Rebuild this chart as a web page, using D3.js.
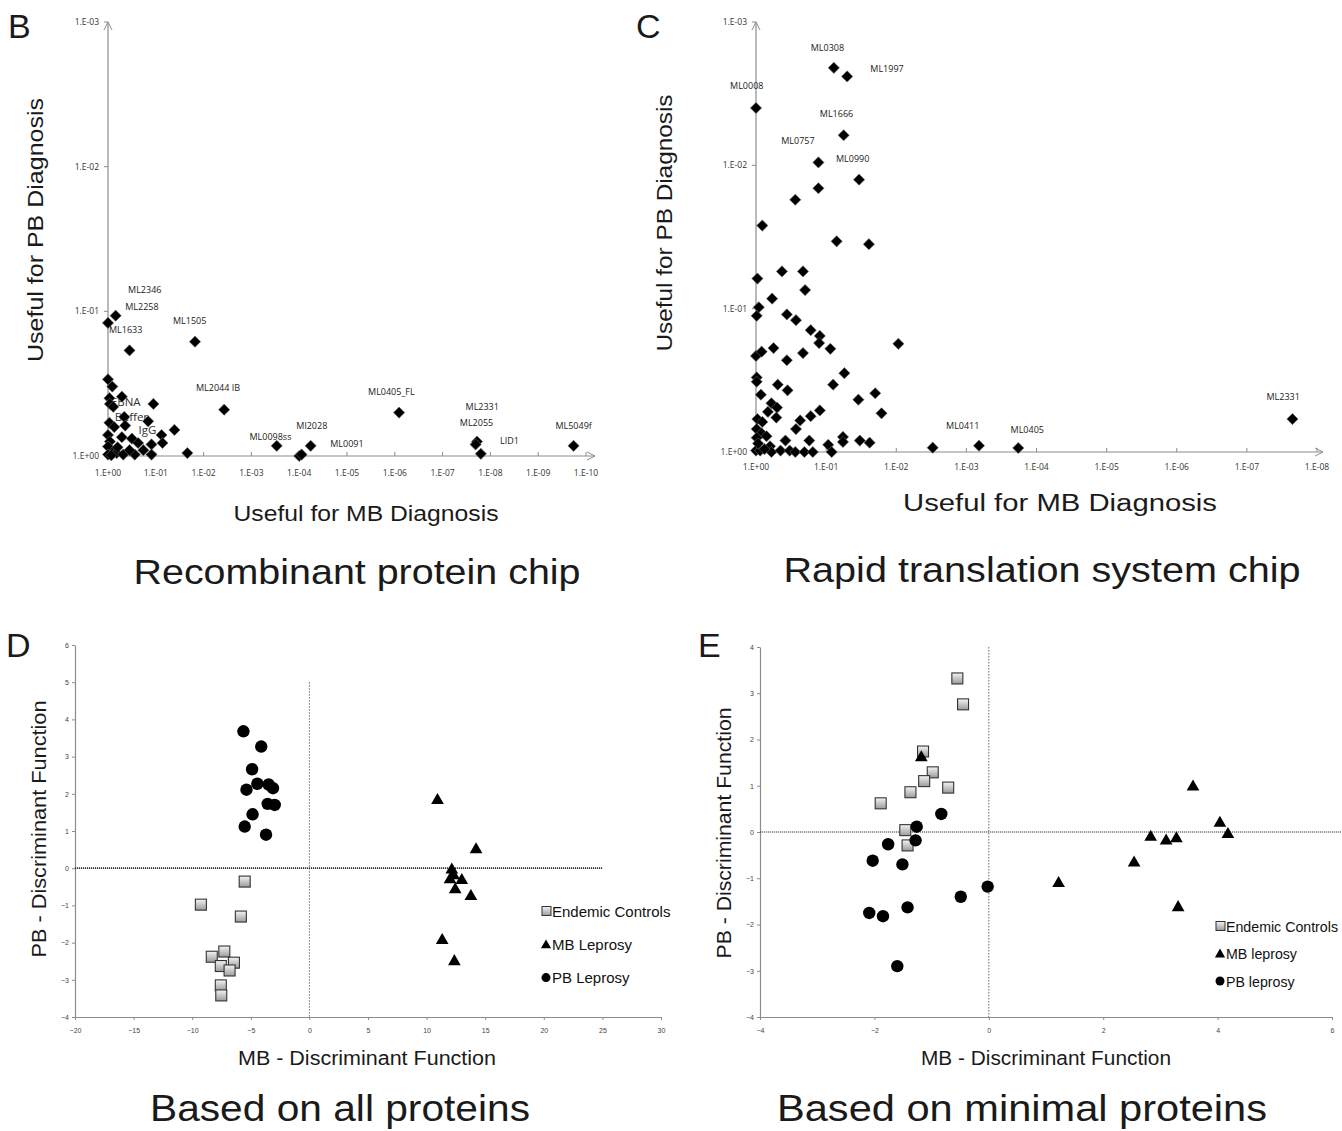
<!DOCTYPE html>
<html>
<head>
<meta charset="utf-8">
<script src="https://cdn.jsdelivr.net/npm/d3@7"></script>
<style>
  body { margin: 0; background: #fff; }
  svg { display: block; }
</style>
</head>
<body>
<div id="chart"></div>
<script>
// ---- panel B: recombinant protein chip (-log10 p values) ----
var bMB = [0, 0.16, 0.45, 1.82, 2.43, 3.53, 4.0, 4.05, 4.24, 6.09, 7.72, 7.69, 7.8, 9.74,
  0, 0.09, 0.03, 0.29, 0.04, 0.11, 0.95, 0.34, 0.84, 0.03, 0.13, 0.36, 1.39, 1.12, 1.14,
  0, 0.04, 0.29, 0.5, 0.63, 0.91, 0, 0.11, 0.18, 0, 0.32, 0.56, 0.74, 0.91, 1.66, 0.2, 0.45, 0.07];
var bPB = [0.92, 0.97, 0.73, 0.79, 0.32, 0.07, 0.0, 0.01, 0.07, 0.30, 0.10, 0.08, 0.015, 0.07,
  0.53, 0.48, 0.40, 0.41, 0.36, 0.34, 0.36, 0.27, 0.24, 0.23, 0.20, 0.21, 0.18, 0.145, 0.09,
  0.145, 0.10, 0.13, 0.12, 0.09, 0.08, 0.065, 0.03, 0.02, 0.01, 0.01, 0.01, 0.04, 0.01, 0.02, 0.06, 0.04, 0.005];
var bLabels = ["ML2346", "ML2258", "ML1633", "ML1505", "ML2044  IB", "ML0098ss", "Ml2028", "ML0091",
  "ML0405_FL", "ML2331", "ML2055", "LID1", "ML5049f"];
var bLabelMB = [0.42, 0.36, 0.02, 1.36, 1.84, 2.96, 3.94, 4.65, 5.44, 7.48, 7.36, 8.2, 9.36];
var bLabelPB = [1.13, 1.01, 0.85, 0.91, 0.45, 0.11, 0.19, 0.06, 0.42, 0.32, 0.21, 0.08, 0.19];
var bBigLabels = ["EBNA", "Buffer", "IgG"];
var bBigMB = [0.06, 0.14, 0.64];
var bBigPB = [0.345, 0.24, 0.155];

// ---- panel C: rapid translation system chip ----
var cMB = [1.11, 1.30, 0, 1.25, 0.89, 1.47, 0.89, 0.56, 0.09, 1.15, 1.61, 0.37, 0.67, 0.02, 0.70,
  0.23, 0.04, 0.01, 0.44, 0.57, 0.78, 0.91, 0.90, 1.06, 2.03, 0, 0.08, 0.25, 0.67, 0.44,
  0.01, 0.01, 0.07, 0.31, 0.45, 1.10, 1.26, 1.46, 1.70, 1.79, 0.22, 0.30, 0.17, 0.29, 0.02,
  0.09, 0.63, 0.78, 0.91, 0.57, 0.01, 0.08, 0.15, 0.01, 0.76, 0.42, 1.03, 1.24, 1.24, 1.48,
  1.62, 0, 0.06, 0.20, 0.22, 0.35, 0.48, 0.56, 0.69, 0.81, 1.08, 0.12, 0.03, 2.52, 3.18, 3.74, 7.65];
var cPB = [2.68, 2.62, 2.40, 2.21, 2.02, 1.90, 1.84, 1.76, 1.58, 1.47, 1.45, 1.26, 1.26, 1.21, 1.13,
  1.07, 1.01, 0.95, 0.96, 0.92, 0.85, 0.81, 0.76, 0.72, 0.755, 0.67, 0.70, 0.725, 0.69, 0.64,
  0.52, 0.49, 0.40, 0.47, 0.43, 0.47, 0.55, 0.365, 0.41, 0.27, 0.34, 0.31, 0.28, 0.24, 0.23,
  0.21, 0.22, 0.25, 0.29, 0.16, 0.16, 0.13, 0.11, 0.10, 0.08, 0.08, 0.05, 0.105, 0.07, 0.08,
  0.065, 0.01, 0.01, 0.04, 0.0, 0.01, 0.01, 0.0, 0.0, 0.0, 0.0, 0.02, 0.06, 0.03, 0.044, 0.028, 0.23];
var cLabels = ["ML0308", "ML1997", "ML0008", "ML1666", "ML0757", "ML0990", "ML0411", "ML0405", "ML2331"];
var cLabelMB = [0.78, 1.63, -0.37, 0.91, 0.36, 1.14, 2.71, 3.63, 7.28];
var cLabelPB = [2.80, 2.65, 2.53, 2.34, 2.15, 2.02, 0.16, 0.13, 0.36];

// ---- panels D and E: discriminant functions ----
var dCtrlX = [-5.52, -9.26, -5.85, -7.26, -8.33, -6.44, -7.56, -6.81, -7.56, -7.52];
var dCtrlY = [-0.36, -0.98, -1.30, -2.24, -2.38, -2.54, -2.63, -2.75, -3.15, -3.42];
var dMbX = [10.93, 14.22, 12.15, 12.30, 12.0, 13.0, 12.44, 13.78, 11.33, 12.37];
var dMbY = [1.85, 0.525, -0.02, -0.17, -0.28, -0.30, -0.55, -0.73, -1.91, -2.48];
var dPbX = [-5.63, -4.11, -4.89, -5.37, -4.44, -3.48, -3.11, -3.56, -2.96, -4.85, -5.52, -3.70];
var dPbY = [3.68, 3.27, 2.66, 2.11, 2.27, 2.25, 2.15, 1.73, 1.70, 1.45, 1.12, 0.90];

var eCtrlX = [-0.55, -0.45, -1.15, -0.98, -1.13, -0.71, -1.37, -1.89, -1.46, -1.42];
var eCtrlY = [3.32, 2.76, 1.74, 1.29, 1.10, 0.96, 0.86, 0.62, 0.04, -0.29];
var eMbX = [-1.18, 3.57, 4.04, 4.18, 2.83, 3.10, 3.28, 2.54, 1.22, 3.31];
var eMbY = [1.63, 1.00, 0.215, -0.03, -0.09, -0.17, -0.12, -0.645, -1.09, -1.61];
var ePbX = [-0.83, -1.26, -1.28, -1.76, -2.03, -1.51, -0.02, -0.49, -1.42, -2.09, -1.85, -1.60];
var ePbY = [0.39, 0.115, -0.18, -0.265, -0.62, -0.70, -1.18, -1.40, -1.63, -1.75, -1.82, -2.90];

var legendD = ["Endemic Controls", "MB Leprosy", "PB Leprosy"];
var legendE = ["Endemic Controls", "MB leprosy", "PB leprosy"];

var svg = d3.select("#chart").append("svg")
  .attr("width", 1342).attr("height", 1131);

var defs = svg.append("defs");
var grad = defs.append("linearGradient").attr("id", "sqgrad")
  .attr("x1", 0).attr("y1", 0).attr("x2", 0).attr("y2", 1);
grad.append("stop").attr("offset", "0%").attr("stop-color", "#f4f4f4");
grad.append("stop").attr("offset", "100%").attr("stop-color", "#9a9a9a");

var AXIS = "#8c8c8c";
var SANS = "'Liberation Sans', Arial, sans-serif";
var SMALL = "'Open Sans', 'DejaVu Sans', sans-serif";

function diamond(r) {
  return "M0," + (-r) + "L" + r + ",0L0," + r + "L" + (-r) + ",0Z";
}

// text stretched to the width it has in the figure
function bigText(x, y, txt, size, len, anchor, rotate) {
  var t = svg.append("text").attr("x", x).attr("y", y)
    .attr("font-family", SANS).attr("font-size", size)
    .attr("fill", "#1a1a1a").attr("text-anchor", anchor || "middle").text(txt);
  if (len) t.attr("textLength", len).attr("lengthAdjust", "spacingAndGlyphs");
  if (rotate) t.attr("transform", "rotate(-90," + x + "," + y + ")");
  return t;
}

// log-style panel (B and C)
function logPanel(o) {
  var x = d3.scaleLinear().domain([0, o.xMax]).range([o.x0, o.x1]);
  var y = d3.scaleLinear().domain([0, 3]).range([o.y0, o.y1]);
  var g = svg.append("g");
  var fmt = function(k) { return k === 0 ? "1.E+00" : "1.E-" + (k < 10 ? "0" + k : k); };

  // axes
  g.append("line").attr("x1", x(0)).attr("x2", x(0)).attr("y1", y(0)).attr("y2", y(3))
    .attr("stroke", AXIS).attr("stroke-width", 1.2);
  g.append("line").attr("x1", x(0)).attr("x2", o.xEnd).attr("y1", y(0)).attr("y2", y(0))
    .attr("stroke", AXIS).attr("stroke-width", 1.2);
  g.append("path").attr("d", "M" + (x(0) - 4) + "," + (y(3) + 8) + "L" + x(0) + "," + y(3) + "L" + (x(0) + 4) + "," + (y(3) + 8))
    .attr("fill", "none").attr("stroke", AXIS);
  g.append("path").attr("d", "M" + (o.xEnd - 8) + "," + (y(0) - 4) + "L" + o.xEnd + "," + y(0) + "L" + (o.xEnd - 8) + "," + (y(0) + 4))
    .attr("fill", "none").attr("stroke", AXIS);

  var yt = d3.range(0, 4);
  g.selectAll(".yt").data(yt).enter().append("line")
    .attr("x1", x(0) - 4).attr("x2", x(0)).attr("y1", d => y(d)).attr("y2", d => y(d))
    .attr("stroke", AXIS);
  g.selectAll(".yl").data(yt).enter().append("text")
    .attr("x", x(0) - 9).attr("y", d => y(d) + 3)
    .attr("text-anchor", "end").attr("font-family", SMALL).attr("font-size", 8.5)
    .attr("fill", "#333").text(fmt);

  var xt = d3.range(0, o.xMax + 1);
  g.selectAll(".xt").data(xt.slice(1)).enter().append("line")
    .attr("x1", d => x(d)).attr("x2", d => x(d)).attr("y1", y(0) - 4).attr("y2", y(0))
    .attr("stroke", AXIS);
  g.selectAll(".xl").data(xt).enter().append("text")
    .attr("x", d => x(d)).attr("y", y(0) + o.xLabelDy)
    .attr("text-anchor", "middle").attr("font-family", SMALL).attr("font-size", 8.5)
    .attr("fill", "#333").text(fmt);

  // labels (under the points)
  g.selectAll(".lab").data(o.labels).enter().append("text")
    .attr("x", (d, i) => x(o.labMB[i])).attr("y", (d, i) => y(o.labPB[i]))
    .attr("font-family", SMALL).attr("font-size", 9).attr("fill", "#222").text(d => d);
  if (o.big) {
    g.selectAll(".big").data(o.big).enter().append("text")
      .attr("x", (d, i) => x(o.bigMB[i])).attr("y", (d, i) => y(o.bigPB[i]))
      .attr("font-family", SMALL).attr("font-size", 11.5).attr("fill", "#333").text(d => d);
  }

  g.selectAll(".pt").data(o.mb).enter().append("path")
    .attr("d", diamond(5.6))
    .attr("transform", (d, i) => "translate(" + x(d) + "," + y(o.pb[i]) + ")")
    .attr("fill", "#000").attr("stroke", "#666").attr("stroke-width", 0.6);

  bigText(o.yTitleX, o.yTitleC, "Useful for PB Diagnosis", 22, o.yTitleLen, "middle", true);
  bigText(o.xTitleC, o.xTitleY, "Useful for MB Diagnosis", o.xTitleSize, o.xTitleLen);
}

logPanel({
  xMax: 10, x0: 108, x1: 586, xEnd: 595, y0: 456, y1: 22, xLabelDy: 20,
  mb: bMB, pb: bPB, labels: bLabels, labMB: bLabelMB, labPB: bLabelPB,
  big: bBigLabels, bigMB: bBigMB, bigPB: bBigPB,
  yTitleX: 43, yTitleC: 230, yTitleLen: 264,
  xTitleC: 366, xTitleY: 521, xTitleSize: 22, xTitleLen: 265
});
logPanel({
  xMax: 8, x0: 756, x1: 1317, xEnd: 1323, y0: 452, y1: 22, xLabelDy: 18,
  mb: cMB, pb: cPB, labels: cLabels, labMB: cLabelMB, labPB: cLabelPB,
  yTitleX: 672, yTitleC: 223, yTitleLen: 257,
  xTitleC: 1060, xTitleY: 511, xTitleSize: 23, xTitleLen: 314
});

// discriminant panels (D and E)
function discPanel(o) {
  var x = d3.scaleLinear().domain(o.xDom).range([o.x0, o.x1]);
  var y = d3.scaleLinear().domain(o.yDom).range([o.y0, o.y1]);
  var g = svg.append("g");

  var xAxis = d3.axisBottom(x).tickValues(o.xTicks).tickSize(3).tickSizeOuter(0);
  var yAxis = d3.axisLeft(y).tickValues(o.yTicks).tickSize(3).tickSizeOuter(0);
  var gx = g.append("g").attr("transform", "translate(0," + o.y0 + ")").call(xAxis);
  var gy = g.append("g").attr("transform", "translate(" + o.x0 + ",0)").call(yAxis);
  [gx, gy].forEach(function(a) {
    a.select(".domain").attr("stroke", AXIS).attr("stroke-width", 1.2);
    a.selectAll(".tick line").attr("stroke", AXIS);
    a.selectAll("text").attr("font-family", SANS).attr("font-size", 7).attr("fill", "#444");
  });
  gx.selectAll("text").attr("dy", "1.4em");

  // zero lines
  g.append("line").attr("x1", x(o.xDom[0])).attr("x2", x(o.hEnd)).attr("y1", y(0)).attr("y2", y(0))
    .attr("stroke", "#333").attr("stroke-width", o.hWidth).attr("stroke-dasharray", "1.2,0.8");
  g.append("line").attr("x1", x(0)).attr("x2", x(0)).attr("y1", y(o.vTop)).attr("y2", y(o.yDom[0]))
    .attr("stroke", "#444").attr("stroke-width", 0.8).attr("stroke-dasharray", "1.5,1.5");

  var sq = 11, tri = d3.symbol().type(d3.symbolTriangle).size(70);
  g.selectAll(".c").data(o.ctrlX).enter().append("rect")
    .attr("x", d => x(d) - sq / 2).attr("y", (d, i) => y(o.ctrlY[i]) - sq / 2)
    .attr("width", sq).attr("height", sq)
    .attr("fill", "url(#sqgrad)").attr("stroke", "#333").attr("stroke-width", 1.1);
  g.selectAll(".m").data(o.mbX).enter().append("path")
    .attr("d", tri)
    .attr("transform", (d, i) => "translate(" + x(d) + "," + (y(o.mbY[i]) + 1) + ")")
    .attr("fill", "#000");
  g.selectAll(".p").data(o.pbX).enter().append("circle")
    .attr("cx", d => x(d)).attr("cy", (d, i) => y(o.pbY[i])).attr("r", 6.2)
    .attr("fill", "#000");

  // legend
  var lg = g.append("g").attr("transform", "translate(" + o.legX + "," + o.legY + ")");
  lg.append("rect").attr("x", -4).attr("y", -4.5).attr("width", 9).attr("height", 9)
    .attr("fill", "url(#sqgrad)").attr("stroke", "#333").attr("stroke-width", 1);
  lg.append("path").attr("d", d3.symbol().type(d3.symbolTriangle).size(45)())
    .attr("transform", "translate(0," + (o.legStep + 1) + ")").attr("fill", "#000");
  lg.append("circle").attr("cx", 0).attr("cy", 2 * o.legStep).attr("r", 4.5).attr("fill", "#000");
  lg.selectAll(".lt").data(o.legend).enter().append("text")
    .attr("x", 6).attr("y", (d, i) => i * o.legStep + 5.5)
    .attr("font-family", SANS).attr("font-size", o.legSize).attr("fill", "#111").text(d => d);

  bigText(o.yTitleX, o.yTitleC, "PB - Discriminant Function", 20, o.yTitleLen, "middle", true);
  bigText(o.xTitleC, 1065, "MB - Discriminant Function", 20, o.xTitleLen);
}

discPanel({
  xDom: [-20, 30], yDom: [-4, 6], x0: 75, x1: 661, y0: 1017, y1: 645,
  xTicks: d3.range(-20, 31, 5), yTicks: d3.range(-4, 7, 1),
  hEnd: 25, hWidth: 1.8, vTop: 5,
  ctrlX: dCtrlX, ctrlY: dCtrlY, mbX: dMbX, mbY: dMbY, pbX: dPbX, pbY: dPbY,
  legX: 546, legY: 911, legStep: 33.3, legSize: 15, legend: legendD,
  yTitleX: 46, yTitleC: 829, yTitleLen: 257, xTitleC: 367, xTitleLen: 258
});
discPanel({
  xDom: [-4, 6], yDom: [-4, 4], x0: 760, x1: 1332, y0: 1017, y1: 647,
  xTicks: d3.range(-4, 7, 2), yTicks: d3.range(-4, 5, 1),
  hEnd: 6.2, hWidth: 1, vTop: 4,
  ctrlX: eCtrlX, ctrlY: eCtrlY, mbX: eMbX, mbY: eMbY, pbX: ePbX, pbY: ePbY,
  legX: 1220, legY: 926, legStep: 27.5, legSize: 14.2, legend: legendE,
  yTitleX: 731, yTitleC: 833, yTitleLen: 251, xTitleC: 1046, xTitleLen: 250
});

// panel letters and titles
bigText(8, 38, "B", 34, null, "start");
bigText(636, 38, "C", 34, null, "start");
bigText(6, 657, "D", 34, null, "start");
bigText(698, 657, "E", 34, null, "start");
bigText(357, 584, "Recombinant protein chip", 35, 447);
bigText(1042, 582, "Rapid translation system chip", 35, 517);
bigText(340, 1121, "Based on all proteins", 37, 380);
bigText(1022, 1121, "Based on minimal proteins", 37, 490);
</script>
</body>
</html>
